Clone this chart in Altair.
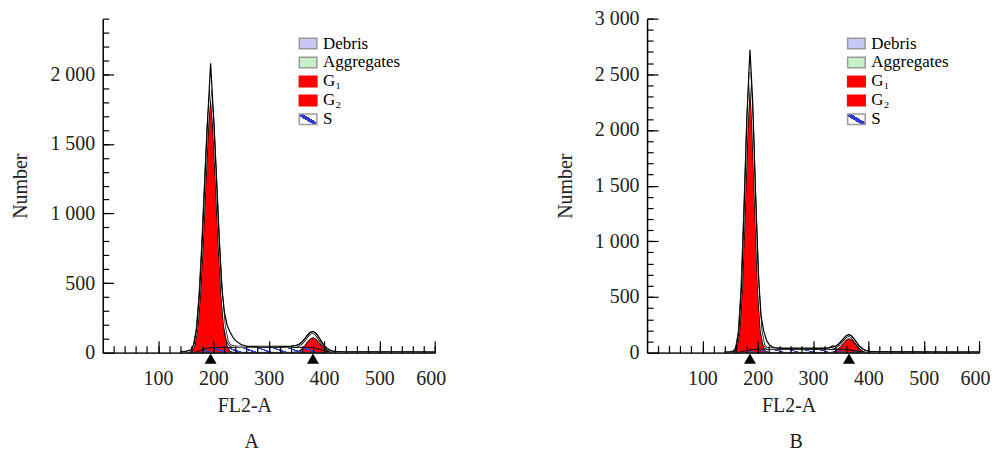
import altair as alt
import pandas as pd

FONT = "Liberation Serif"

# ---------------- Panel A ----------------
xA = [140, 150, 160, 165, 170, 175, 180, 185, 190, 195, 200, 205, 210, 215, 220, 225, 230, 235, 240,
      250, 260, 280, 300, 320, 340,
      350, 355, 360, 365, 370, 375, 380, 385, 390, 395, 400, 405, 410, 415, 420,
      430, 450, 500, 550, 600]
dataA = [4, 8, 20, 60, 175, 420, 800, 1260, 1700, 2080, 1720, 1290, 840, 480, 290, 195, 150, 112, 86,
         58, 46, 41, 40, 42, 45,
         52, 60, 76, 98, 125, 146, 153, 142, 114, 80, 52, 32, 19, 11, 7,
         5, 4, 3, 3, 2]
modelA = [3, 4, 14, 49, 159, 396, 764, 1211, 1636, 1889, 1641, 1222, 782, 422, 192, 87, 52, 44, 42,
          41, 41, 41, 41, 41, 41,
          46, 53, 68, 90, 117, 138, 145, 132, 105, 73, 45, 26, 14, 7, 3,
          3, 3, 3, 3, 2]
g1A = [0, 0, 10, 45, 150, 380, 740, 1180, 1600, 1850, 1600, 1180, 740, 380, 150, 45, 10, 2, 0,
       0, 0, 0, 0, 0, 0,
       0, 0, 0, 0, 0, 0, 0, 0, 0, 0, 0, 0, 0, 0, 0,
       0, 0, 0, 0, 0]
g2A = [0, 0, 0, 0, 0, 0, 0, 0, 0, 0, 0, 0, 0, 0, 0, 0, 0, 0, 0,
       0, 0, 0, 0, 0, 0,
       5, 12, 27, 49, 76, 98, 107, 98, 76, 50, 28, 14, 6, 2, 0,
       0, 0, 0, 0, 0]
sA = [0, 0, 0, 0, 5, 12, 20, 27, 32, 35, 37, 38, 38, 38, 38, 38, 38, 38, 38,
      38, 38, 38, 38, 38, 38,
      38, 38, 38, 38, 38, 37, 35, 31, 26, 20, 14, 9, 5, 2, 0,
      0, 0, 0, 0, 0]
debrisA = [3, 4, 4, 4, 4, 4, 4, 4, 4, 4, 4, 4, 4, 4, 4, 4, 4, 4, 4,
           3, 3, 3, 3, 3, 3,
           3, 3, 3, 3, 3, 3, 3, 3, 3, 3, 3, 3, 3, 3, 3,
           2, 2, 2, 2, 1]
aggA = [0, 0, 0, 0, 0, 0, 0, 0, 0, 0, 0, 0, 0, 0, 0, 0, 0, 0, 0,
        0, 0, 0, 0, 0, 0,
        0, 0, 0, 0, 0, 0, 0, 0, 0, 0, 0, 0, 0, 0, 0,
        1, 1, 1, 1, 1]
peaksA = [195, 380]

# ---------------- Panel B ----------------
xB = [140, 150, 156, 161, 166, 171, 176, 181, 186, 191, 196, 201, 206, 211, 216, 221, 226, 231, 236,
      245, 260, 280, 300, 320, 330,
      335, 340, 345, 350, 355, 360, 365, 370, 375, 380, 385, 390, 395, 400, 405, 410,
      420, 450, 500, 550, 600]
dataB = [2, 5, 10, 45, 190, 610, 1350, 2180, 2720, 2250, 1420, 720, 330, 190, 110, 70, 52, 44, 40,
         37, 36, 35, 36, 37, 45,
         60, 56, 72, 97, 126, 152, 163, 150, 118, 84, 52, 32, 20, 13, 9, 7,
         6, 4, 3, 3, 2]
modelB = [2, 3, 8, 38, 176, 571, 1267, 2023, 2518, 2031, 1283, 594, 205, 70, 40, 35, 35, 35, 35,
          35, 35, 35, 35, 35, 35,
          39, 47, 63, 89, 118, 144, 153, 138, 106, 72, 41, 22, 11, 6, 4, 3,
          3, 3, 3, 2, 2]
g1B = [0, 0, 5, 35, 170, 560, 1250, 2000, 2490, 2000, 1250, 560, 170, 35, 5, 0, 0, 0, 0,
       0, 0, 0, 0, 0, 0,
       0, 0, 0, 0, 0, 0, 0, 0, 0, 0, 0, 0, 0, 0, 0, 0,
       0, 0, 0, 0, 0]
g2B = [0, 0, 0, 0, 0, 0, 0, 0, 0, 0, 0, 0, 0, 0, 0, 0, 0, 0, 0,
       0, 0, 0, 0, 0, 0,
       4, 12, 28, 55, 85, 113, 125, 113, 85, 55, 28, 12, 4, 1, 0, 0,
       0, 0, 0, 0, 0]
sB = [0, 0, 0, 0, 3, 8, 14, 20, 25, 28, 30, 31, 32, 32, 32, 32, 32, 32, 32,
      32, 32, 32, 32, 32, 32,
      32, 32, 32, 31, 30, 28, 25, 22, 18, 14, 10, 7, 4, 2, 1, 0,
      0, 0, 0, 0, 0]
debrisB = [2, 3, 3, 3, 3, 3, 3, 3, 3, 3, 3, 3, 3, 3, 3, 3, 3, 3, 3,
           3, 3, 3, 3, 3, 3,
           3, 3, 3, 3, 3, 3, 3, 3, 3, 3, 3, 3, 3, 3, 3, 3,
           2, 2, 2, 1, 1]
aggB = [0, 0, 0, 0, 0, 0, 0, 0, 0, 0, 0, 0, 0, 0, 0, 0, 0, 0, 0,
        0, 0, 0, 0, 0, 0,
        0, 0, 0, 0, 0, 0, 0, 0, 0, 0, 0, 0, 0, 0, 0, 0,
        1, 1, 1, 1, 1]
peaksB = [186, 365]

# ---------------- shared ----------------
comps = ["Debris", "Aggregates", "G₁", "G₂", "S"]

x_major = [100, 200, 300, 400, 500, 600]
x_minor = list(range(20, 601, 20))
yA_major = [0, 500, 1000, 1500, 2000]
yA_minor = list(range(100, 2401, 100))
yB_major = [0, 500, 1000, 1500, 2000, 2500, 3000]
yB_minor = list(range(100, 3001, 100))

W, H = 333, 335
BLUE = "#2a3cd0"
CLEAR = "rgba(255,255,255,0)"
RECT = "M-1,-0.6H1V0.6H-1Z"


def hatch(n=17, frac=0.28):
    stops = []
    for i in range(n):
        a, b, c = i / n, (i + frac) / n, (i + 1) / n
        stops += [alt.GradientStop(offset=a, color=BLUE), alt.GradientStop(offset=b, color=BLUE),
                  alt.GradientStop(offset=b, color=CLEAR), alt.GradientStop(offset=c, color=CLEAR)]
    return alt.LinearGradient(gradient="linear", x1=0, y1=0.06, x2=1, y2=0, stops=stops)


SWATCH_FILL = (
    "datum.value === 'Debris' ? '#c8c8f4' : datum.value === 'Aggregates' ? '#c8f0c8' : "
    "datum.value === 'S' ? {gradient: 'linear', x1: 0, y1: 1, x2: 1, y2: 0, stops: ["
    "{offset: 0, color: '#ffffff'}, {offset: 0.4, color: '#ffffff'}, {offset: 0.4, color: '#2a3cd0'}, "
    "{offset: 0.6, color: '#2a3cd0'}, {offset: 0.6, color: '#ffffff'}, {offset: 1, color: '#ffffff'}]} : '#ff0000'"
)
SWATCH_STROKE = "datum.value === 'G₁' || datum.value === 'G₂' ? '#ff0000' : '#9a9a9a'"


def panel(x, data, model, g1, g2, s, debris, agg, peaks, ymax, ymaj, ymin, name, leg_x, leg_y):
    df = pd.DataFrame({"x": x, "data": data, "model": model, "g1": g1, "g2": g2,
                       "s": s, "debris": debris, "agg": agg})
    pk = pd.DataFrame({"peak": peaks})
    lg = pd.DataFrame({"value": comps})
    xs = alt.Scale(domain=[0, 600], nice=False, zero=False)
    ys = alt.Scale(domain=[0, ymax], nice=False)
    base = alt.Chart(df)

    ax_x_dom = alt.Axis(orient="bottom", domain=True, domainColor="#333333", domainWidth=2,
                        ticks=False, labels=False, title=None, grid=False, zindex=1)
    ax_x_maj = alt.Axis(orient="bottom", values=x_major, offset=-12, tickSize=12, domain=False,
                        labelPadding=16, labelFlush=True, labelFlushOffset=11,
                        title="FL2-A", titleX=142, titlePadding=7,
                        grid=False, labelOverlap=False, zindex=1)
    ax_x_min = alt.Axis(orient="bottom", values=x_minor, offset=-7, tickSize=7, domain=False,
                        labels=False, title=None, grid=False, zindex=1)
    ax_y_dom = alt.Axis(orient="left", domain=True, domainColor="black", domainWidth=1.5,
                        ticks=False, labels=False, title=None, grid=False, zindex=1)
    ax_y_maj = alt.Axis(orient="left", values=ymaj, offset=-11, tickSize=11, domain=False,
                        labelPadding=8, labelFlush=False,
                        labelExpr="replace(format(datum.value, ','), ',', ' ')",
                        title="Number", titlePadding=19, grid=False, labelOverlap=False, zindex=1)
    ax_y_min = alt.Axis(orient="left", values=ymin, offset=-6, tickSize=6, domain=False,
                        labels=False, title=None, grid=False, zindex=1)

    def comp_area(col, xa, ya, **kw):
        return base.mark_area(**kw).encode(
            x=alt.X("x:Q", scale=xs, axis=xa),
            y=alt.Y(f"{col}:Q", scale=ys, axis=ya),
        )

    debris_l = comp_area("debris", ax_x_dom, ax_y_dom, color="#c8c8f4", stroke="#8888aa", strokeWidth=0.8)
    agg_l = comp_area("agg", ax_x_maj, ax_y_maj, color="#c8f0c8", stroke="#88aa88", strokeWidth=0.8)
    g1_l = comp_area("g1", ax_x_min, ax_y_min, color="#ff0000", stroke="black", strokeWidth=1)
    g2_l = comp_area("g2", None, None, color="#ff0000", stroke="black", strokeWidth=1)
    s_l = base.mark_area(fill=hatch(), stroke="black", strokeWidth=1).encode(
        x=alt.X("x:Q", scale=xs, axis=None), y=alt.Y("s:Q", scale=ys, axis=None))
    model_b = base.mark_line(color="black", strokeWidth=2.4).encode(
        x=alt.X("x:Q", scale=xs, axis=None), y=alt.Y("model:Q", scale=ys, axis=None))
    model_w = base.mark_line(color="white", strokeWidth=1.0).encode(
        x=alt.X("x:Q", scale=xs, axis=None), y=alt.Y("model:Q", scale=ys, axis=None))
    data_l = base.mark_line(color="black", strokeWidth=1.2).encode(
        x=alt.X("x:Q", scale=xs, axis=None), y=alt.Y("data:Q", scale=ys, axis=None))
    tri = alt.Chart(pk).mark_point(shape="triangle-up", filled=True, color="black", size=144,
                                   opacity=1).encode(
        x=alt.X("peak:Q", scale=xs, axis=None), y=alt.value(H + 6))

    legend = alt.Legend(
        orient="none", legendX=leg_x, legendY=leg_y, title=None, padding=0,
        symbolSize=310, rowPadding=0, symbolOpacity=1,
        labelFont=FONT, labelFontSize=17, labelColor="black", labelOffset=5, labelLimit=300,
    )
    leg_l = alt.Chart(lg).transform_filter("datum.value === 'none'").mark_point(
        filled=True, fill={"expr": SWATCH_FILL}, stroke={"expr": SWATCH_STROKE}, strokeWidth=1,
    ).encode(
        x=alt.value(0), y=alt.value(0),
        shape=alt.Shape("value:N", scale=alt.Scale(domain=comps, range=[RECT] * len(comps)),
                        legend=legend),
    )

    return alt.layer(debris_l, agg_l, g1_l, g2_l, s_l, model_b, model_w, data_l, tri, leg_l).resolve_axis(
        x="independent", y="independent"
    ).properties(
        width=W, height=H,
        title=alt.TitleParams(name, orient="bottom", frame="group", dx=-17, offset=17, font=FONT,
                              fontSize=20, fontWeight="normal", color="#222222"),
    )


pA = panel(xA, dataA, modelA, g1A, g2A, sA, debrisA, aggA, peaksA, 2400, yA_major, yA_minor, "A", 196, 15)
pB = panel(xB, dataB, modelB, g1B, g2B, sB, debrisB, aggB, peaksB, 3000, yB_major, yB_minor, "B", 200, 15)

chart = alt.hconcat(pA, pB, spacing=213, bounds="flush").resolve_scale(
    shape="independent"
).configure_view(stroke=None).configure_axis(
    labelFont=FONT, labelFontSize=20, labelColor="#222222",
    titleFont=FONT, titleFontSize=20, titleFontWeight="normal", titleColor="#222222",
    tickColor="black", tickWidth=1.2,
).properties(padding={"left": 3, "top": 0, "right": 0, "bottom": 0}, background="white")

chart.save("out.html", embed_options={"renderer": "svg", "actions": False})
